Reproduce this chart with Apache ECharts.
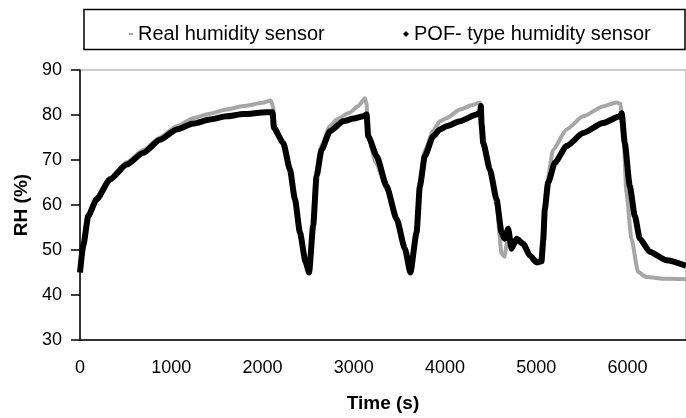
<!DOCTYPE html>
<html>
<head>
<meta charset="utf-8">
<script src="https://cdn.jsdelivr.net/npm/echarts@6/dist/echarts.min.js"></script>
<style>
  html, body { margin: 0; padding: 0; background: #fff; }
  #chart { width: 686px; height: 418px; }
</style>
</head>
<body>
<div id="chart"></div>
<script>
// real humidity sensor (grey)
const realTime = [0, 36, 91, 183, 329, 511, 694, 876, 1059, 1241, 1424, 1606, 1789, 2000, 2090, 2115,
  2130, 2227, 2300, 2355, 2410, 2470, 2510,
  2550, 2585, 2640, 2738, 2811, 2950, 3050, 3121, 3140,
  3155, 3240, 3359, 3469, 3560, 3615,
  3685, 3720, 3775, 3870, 3943, 4016, 4162, 4300, 4380, 4400,
  4418, 4491, 4564, 4619, 4650, 4692, 4728, 4783, 4856, 4929, 5002, 5050,
  5080, 5110, 5185, 5331, 5513, 5731, 5877, 5920,
  5950, 5987, 6042, 6115, 6206, 6426, 6640];
const realRH = [46, 51.5, 58, 61.8, 66, 69.5, 72.2, 75, 77.5, 79.3, 80.3, 81.2, 82, 82.7, 83.2, 82,
  77.5, 73.5, 67.5, 61, 53.5, 47.5, 45.5,
  55.5, 66.5, 73, 77.5, 79, 80.5, 82, 83.7, 82.5,
  75.5, 69.5, 63.5, 56.5, 50, 45.5,
  54, 65, 72, 76.5, 78.6, 79.3, 81.2, 82.2, 82.8, 80,
  74, 67.5, 60, 49.2, 48.5, 53.5, 50.3, 52, 51, 48.5, 47, 47.2,
  56, 64.2, 72.3, 76.8, 79.7, 81.9, 82.8, 82.5,
  77.5, 62.8, 52.5, 45.1, 44, 43.6, 43.5];

// POF-type humidity sensor (black)
const pofTime = [0, 36, 91, 183, 329, 511, 694, 876, 1059, 1241, 1424, 1606, 1789, 2044, 2110,
  2125, 2227, 2300, 2355, 2410, 2470, 2510,
  2555, 2592, 2647, 2738, 2884, 3000, 3103, 3140,
  3158, 3250, 3359, 3469, 3560, 3620,
  3688, 3724, 3779, 3870, 3943, 4016, 4162, 4345, 4385, 4392, 4400,
  4418, 4491, 4564, 4619, 4650, 4692, 4728, 4783, 4856, 4929, 5002, 5057,
  5075, 5093, 5130, 5203, 5331, 5513, 5731, 5914, 5935,
  5969, 6024, 6079, 6134, 6243, 6426, 6640];
const pofRH = [45, 51, 57.6, 61.3, 65.7, 69, 71.6, 74.5, 76.8, 78.1, 79, 79.7, 80.2, 80.6, 80.6,
  77.1, 73.8, 67.9, 61.3, 53.9, 47.5, 45,
  55.4, 66.4, 72.3, 76.4, 78.6, 79.2, 79.7, 80.1,
  75.3, 70.9, 64.2, 56.9, 50.3, 45,
  53.9, 64.2, 70.9, 75.3, 76.8, 77.5, 78.6, 80.1, 80.5, 82, 78,
  73.8, 67.9, 61.3, 53.9, 52.5, 54.7, 50.3, 52.5, 51.4, 48.8, 47.3, 47.5,
  52, 59.1, 65, 69.4, 73.1, 76, 78.2, 79.7, 80.4,
  73.8, 64.2, 57.6, 52.5, 49.6, 47.7, 46.5];

const xTicks = [0, 1000, 2000, 3000, 4000, 5000, 6000];
const yTicks = [30, 40, 50, 60, 70, 80, 90];

const FONT = '"Liberation Sans", Arial, sans-serif';
const chart = echarts.init(document.getElementById('chart'));

chart.setOption({
  animation: false,
  grid: {
    left: 80, right: 0, top: 70, bottom: 76,
    show: true, borderColor: '#9a9a9a', borderWidth: 1
  },
  graphic: [{
    type: 'rect',
    shape: { x: 84, y: 9.5, width: 601, height: 40 },
    style: { fill: '#fff', stroke: '#000', lineWidth: 1.5 },
    z: -1
  }],
  legend: [
    {
      data: [{ name: 'Real humidity sensor', icon: 'rect' }],
      left: 124, top: 19, itemWidth: 4, itemHeight: 2, itemGap: 6,
      textStyle: { fontFamily: FONT, fontSize: 20, color: '#000' }
    },
    {
      data: [{ name: 'POF- type humidity sensor', icon: 'diamond' }],
      left: 398, top: 19, itemWidth: 6, itemHeight: 6, itemGap: 6,
      textStyle: { fontFamily: FONT, fontSize: 20, color: '#000' }
    }
  ],
  xAxis: {
    type: 'value',
    min: 0, max: 6640, interval: 1000,
    name: 'Time (s)', nameLocation: 'middle', nameGap: 54,
    nameTextStyle: { fontFamily: FONT, fontSize: 19, fontWeight: 'bold', color: '#000' },
    axisLine: { lineStyle: { color: '#000', width: 1.5 } },
    axisTick: { show: false },
    axisLabel: {
      margin: 19, fontFamily: FONT, fontSize: 18, color: '#000', showMaxLabel: false,
      formatter: v => xTicks.includes(v) ? String(v) : ''
    },
    splitLine: { show: false }
  },
  yAxis: {
    type: 'value',
    min: 30, max: 90, interval: 10,
    name: 'RH (%)', nameLocation: 'middle', nameGap: 47,
    nameTextStyle: { fontFamily: FONT, fontSize: 19, fontWeight: 'bold', color: '#000' },
    axisLine: { show: true, lineStyle: { color: '#000', width: 1.5 } },
    axisTick: { show: true, length: 9, lineStyle: { color: '#000', width: 1.5 } },
    axisLabel: {
      margin: 18, fontFamily: FONT, fontSize: 18, color: '#000',
      formatter: v => yTicks.includes(v) ? String(v) : ''
    },
    splitLine: { show: false }
  },
  series: [
    {
      name: 'Real humidity sensor',
      type: 'line',
      data: realTime.map((t, i) => [t, realRH[i]]),
      showSymbol: false,
      smooth: 0.2,
      smoothMonotone: 'x',
      itemStyle: { color: '#a6a6a6' },
      lineStyle: { color: '#a6a6a6', width: 4 },
      z: 2
    },
    {
      name: 'POF- type humidity sensor',
      type: 'line',
      data: pofTime.map((t, i) => [t, pofRH[i]]),
      showSymbol: false,
      smooth: 0.2,
      smoothMonotone: 'x',
      itemStyle: { color: '#000' },
      lineStyle: { color: '#000', width: 6 },
      z: 3
    }
  ]
});
</script>
</body>
</html>
